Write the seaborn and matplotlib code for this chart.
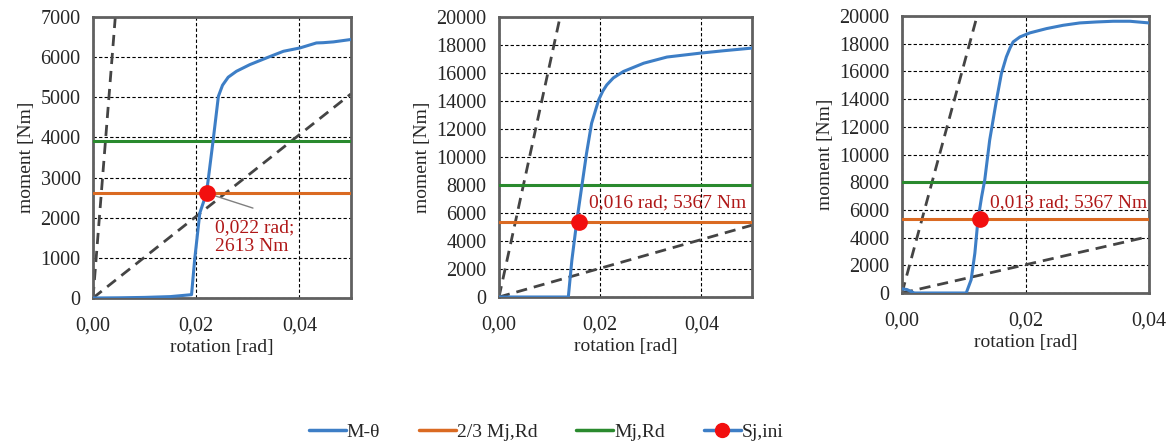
import numpy as np
import pandas as pd
import matplotlib
matplotlib.use("Agg")
import matplotlib.pyplot as plt
from matplotlib.lines import Line2D
from matplotlib.ticker import FuncFormatter
import seaborn as sns

sns.set_style("white")
plt.rcParams['font.family'] = ['Liberation Serif', 'DejaVu Serif']

# ----------------------------------------------------------
# data (rotation [rad], moment [Nm])

rot_1 = [0.0, 0.005, 0.010, 0.015, 0.0191, 0.0197, 0.0207, 0.0220, 0.0233, 0.0243, 0.0251,
         0.0262, 0.0278, 0.0304, 0.0336, 0.0369, 0.0401, 0.0433, 0.0446, 0.0466, 0.0500]
mom_1 = [0, 5, 15, 35, 83, 955, 2118, 2613, 3945, 5025, 5300,
         5500, 5648, 5814, 5980, 6146, 6229, 6354, 6360, 6380, 6440]

rot_2 = [0.0, 0.0137, 0.0144, 0.0154, 0.0164, 0.0173, 0.0183, 0.0197, 0.0205, 0.0213, 0.0226,
         0.0246, 0.0286, 0.0332, 0.0398, 0.0444, 0.0500]
mom_2 = [0, 0, 2625, 5490, 8000, 10260, 12410, 14080, 14700, 15150, 15650,
         16110, 16700, 17140, 17420, 17590, 17780]

rot_3 = [0.0, 0.0008, 0.002, 0.0104, 0.0112, 0.0118, 0.0123, 0.0129, 0.0134, 0.0142, 0.0153,
         0.0161, 0.0169, 0.0175, 0.0180, 0.0191, 0.0207, 0.0234, 0.0261, 0.0288, 0.0315,
         0.0342, 0.0369, 0.0400]
mom_3 = [300, 250, 0, 0, 960, 2880, 5280, 6960, 8160, 11040, 13930,
         15850, 17050, 17700, 18130, 18490, 18780, 19090, 19330, 19500, 19570,
         19620, 19620, 19500]

mj_rd = [3920, 8000, 8050]            # Mj,Rd
mj_rd_23 = [2613, 5367, 5367]         # 2/3 Mj,Rd
sj_rot = [0.022, 0.0158, 0.0126]      # Sj,ini point
sj_labels = ["0,022 rad;\n2613 Nm", "0,016 rad; 5367 Nm", "0,013 rad; 5367 Nm"]
k_steep = [1.62e6, 1.657e6, 1.645e6]  # initial stiffness lines
k_flat = [101700, 102600, 102000]

x_max = [0.05, 0.05, 0.04]
y_max = [7000, 20000, 20000]
y_step = [1000, 2000, 2000]

curves = [(rot_1, mom_1), (rot_2, mom_2), (rot_3, mom_3)]

c_blue = "#3D7EC6"
c_orange = "#DA6A22"
c_green = "#2A8A2E"
c_red = "#F20F0F"
c_dash = "#444444"
c_text = "#B01818"

positions = [
    [93 / 1172, 1 - 298 / 445, 258 / 1172, 281 / 445],
    [499 / 1172, 1 - 297 / 445, 253 / 1172, 280 / 445],
    [902 / 1172, 1 - 293 / 445, 247 / 1172, 277 / 445],
]

fig = plt.figure(figsize=(11.72, 4.45), dpi=100)

for i in range(3):
    ax = fig.add_axes(positions[i])
    df = pd.DataFrame({"rotation": curves[i][0], "moment": curves[i][1]})

    # stiffness lines
    xs = np.array([0, x_max[i]])
    sns.lineplot(x=xs, y=k_steep[i] * xs, ax=ax, color=c_dash, lw=2, ls=(0, (4, 2.5)), zorder=2)
    sns.lineplot(x=xs, y=k_flat[i] * xs, ax=ax, color=c_dash, lw=2, ls=(0, (4, 2.5)), zorder=2)

    ax.axhline(mj_rd[i], color=c_green, lw=2.2, zorder=3)
    ax.axhline(mj_rd_23[i], color=c_orange, lw=2.2, zorder=3)

    sns.lineplot(data=df, x="rotation", y="moment", ax=ax, color=c_blue, lw=2.2,
                 sort=False, estimator=None, zorder=4)
    ax.plot(sj_rot[i], mj_rd_23[i], "o", color=c_red, ms=11, zorder=5)

    ax.set_xlim(0, x_max[i])
    ax.set_ylim(0, y_max[i])
    ax.set_xticks(np.arange(0, x_max[i] + 1e-9, 0.02))
    ax.set_yticks(np.arange(0, y_max[i] + 1, y_step[i]))
    ax.xaxis.set_major_formatter(FuncFormatter(lambda v, p: f"{v:.2f}".replace(".", ",")))
    ax.grid(True, color="black", ls=(0, (3, 2)), lw=0.8)
    ax.tick_params(labelsize=14.5, length=0)
    ax.tick_params(axis="y", pad=9)
    ax.tick_params(axis="x", pad=13)
    ax.set_xlabel("rotation [rad]", fontsize=14, labelpad=2.5)
    ax.set_ylabel("moment [Nm]", fontsize=14, labelpad=4)
    for s in ax.spines.values():
        s.set_color("#606060")
        s.set_linewidth(2)

    if i == 0:
        ax.annotate("", xy=(sj_rot[i], mj_rd_23[i]), xytext=(0.031, 2240),
                    arrowprops=dict(arrowstyle="-", color="#808080", lw=1,
                                    shrinkA=0, shrinkB=0))
        ax.text(0.0236, 1520, sj_labels[i], fontsize=14, color=c_text,
                va="center", ha="left", linespacing=1.1)
    elif i == 1:
        ax.text(0.0178, 6714, sj_labels[i], fontsize=14, color=c_text,
                va="center", ha="left")
    else:
        ax.text(0.01425, 6500, sj_labels[i], fontsize=14, color=c_text,
                va="center", ha="left")

handles = [
    Line2D([], [], color=c_blue, lw=2.5),
    Line2D([], [], color=c_orange, lw=2.5),
    Line2D([], [], color=c_green, lw=2.5),
    Line2D([], [], color=c_blue, lw=2.5, marker="o", mfc=c_red, mec=c_red, ms=10),
]
labels = ["M-θ", "2/3 Mj,Rd", "Mj,Rd", "Sj,ini"]
fig.legend(handles, labels, loc="center", bbox_to_anchor=(546 / 1172, 1 - 432 / 445), ncol=4,
           frameon=False, fontsize=14, handlelength=1.9, handletextpad=0.05,
           columnspacing=2.0)

fig.savefig("out.png", dpi=100)
